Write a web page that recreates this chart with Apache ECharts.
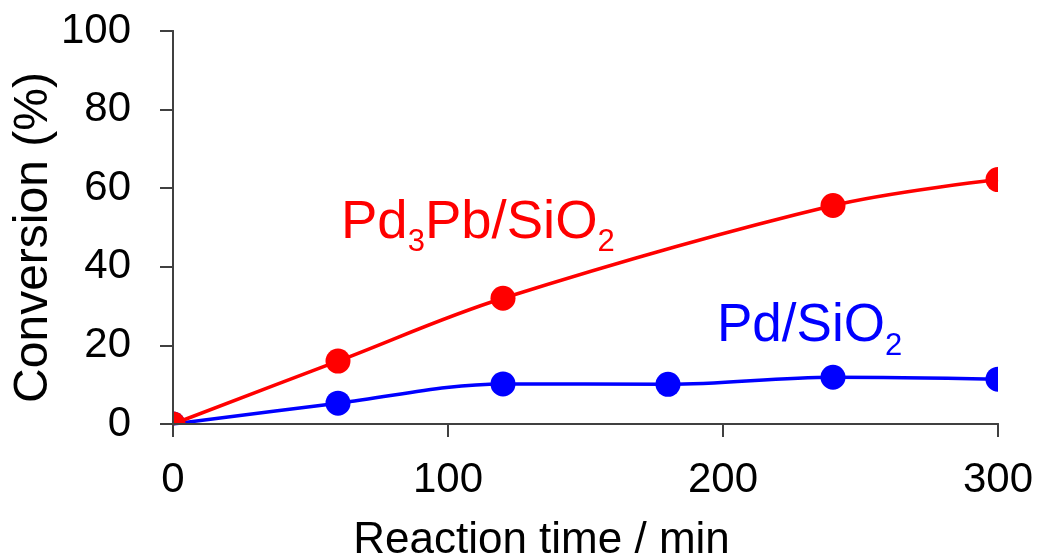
<!DOCTYPE html>
<html>
<head>
<meta charset="utf-8">
<script src="https://cdn.jsdelivr.net/npm/echarts@6/dist/echarts.min.js"></script>
<style>
  html, body { margin: 0; padding: 0; background: #fff; }
  #chart { width: 1038px; height: 560px; }
</style>
</head>
<body>
<div id="chart"></div>
<script>
// Conversion over reaction time for two catalysts
const pd3pbTimes = [0, 60, 120, 240, 300];
const pd3pbConversion = [0, 16.0, 32.0, 55.6, 62.2];
const pdTimes = [0, 60, 120, 180, 240, 300];
const pdConversion = [0, 5.3, 10.2, 10.1, 11.9, 11.4];
const xTicks = [0, 100, 200, 300];
const yTicks = [0, 20, 40, 60, 80, 100];

const FONT = "'Liberation Sans', Arial, sans-serif";
const AXIS_COLOR = '#404040';
const RED = '#ff0000';
const BLUE = '#0000ff';
const MARKER = 25;

const pairs = (xs, ys) => xs.map((x, i) => [x, ys[i]]);

const chart = echarts.init(document.getElementById('chart'), null, { renderer: 'canvas' });

const frameAxis = {
  min: 0,
  axisLine: { show: true, lineStyle: { color: AXIS_COLOR, width: 2 } },
  axisTick: { show: false },
  axisLabel: { show: false },
  splitLine: { show: false },
  z: 10
};

// Round markers, clipped to the plot frame like the curves
function markerSeries(name, data, color, z) {
  return {
    name: name,
    type: 'custom',
    data: data,
    clip: true,
    z: z,
    renderItem: (params, api) => {
      const p = api.coord([api.value(0), api.value(1)]);
      return {
        type: 'circle',
        shape: { cx: p[0], cy: p[1], r: MARKER / 2 },
        style: { fill: color }
      };
    }
  };
}

function curveSeries(name, data, color, z) {
  return {
    name: name,
    type: 'line',
    data: data,
    smooth: 0.35,
    showSymbol: false,
    symbol: 'none',
    z: z,
    lineStyle: { color: color, width: 3.5 }
  };
}

chart.setOption({
  animation: false,
  backgroundColor: '#fff',
  grid: { left: 173, right: 40, top: 31, bottom: 136, containLabel: false, outerBoundsMode: 'none' },
  xAxis: [{
    type: 'value',
    min: xTicks[0],
    max: xTicks[xTicks.length - 1],
    interval: xTicks[1] - xTicks[0],
    z: 10,
    name: 'Reaction time / min',
    nameLocation: 'middle',
    nameGap: 95,
    nameMoveOverlap: false,
    nameTextStyle: { fontFamily: FONT, fontSize: 44, color: '#000', padding: [0, 88, 0, 0] },
    axisLine: { lineStyle: { color: AXIS_COLOR, width: 2 } },
    axisTick: { show: true, inside: false, length: 13, lineStyle: { color: AXIS_COLOR, width: 2 } },
    axisLabel: { fontFamily: FONT, fontSize: 42, color: '#000', margin: 35 },
    splitLine: { show: false }
  }, Object.assign({}, frameAxis, { type: 'value', position: 'top', max: xTicks[xTicks.length - 1] })],
  yAxis: [{
    type: 'value',
    min: yTicks[0],
    max: yTicks[yTicks.length - 1],
    interval: yTicks[1] - yTicks[0],
    z: 10,
    name: 'Conversion (%)',
    nameLocation: 'middle',
    nameGap: 115,
    nameMoveOverlap: false,
    nameTextStyle: { fontFamily: FONT, fontSize: 48, color: '#000', padding: [0, 20, 0, 0] },
    axisLine: { show: true, lineStyle: { color: AXIS_COLOR, width: 2 } },
    axisTick: { show: true, inside: false, length: 13, lineStyle: { color: AXIS_COLOR, width: 2 } },
    axisLabel: { fontFamily: FONT, fontSize: 42, color: '#000', margin: 42 },
    splitLine: { show: false }
  }, Object.assign({}, frameAxis, { type: 'value', position: 'right', max: yTicks[yTicks.length - 1] })],
  series: [
    curveSeries('Pd/SiO2', pairs(pdTimes, pdConversion), BLUE, 2),
    markerSeries('Pd/SiO2 points', pairs(pdTimes, pdConversion), BLUE, 3),
    curveSeries('Pd3Pb/SiO2', pairs(pd3pbTimes, pd3pbConversion), RED, 4),
    markerSeries('Pd3Pb/SiO2 points', pairs(pd3pbTimes, pd3pbConversion), RED, 5)
  ]
});

// Chemical formula labels with subscripts, laid out piece by piece
const ctx = document.createElement('canvas').getContext('2d');
function measure(text, size) {
  ctx.font = size + 'px ' + FONT;
  return ctx.measureText(text).width;
}
function formula(pieces, left, baseline, color, size, subSize, drop) {
  const out = [];
  let x = left;
  pieces.forEach(([text, isSub]) => {
    const s = isSub ? subSize : size;
    const base = isSub ? baseline + drop : baseline;
    out.push({
      type: 'text', z: 20, silent: true,
      x: x, y: base - 0.31 * s,
      style: { text: text, fill: color, font: s + 'px ' + FONT, textAlign: 'left', textVerticalAlign: 'middle', verticalAlign: 'middle' }
    });
    x += measure(text, s);
  });
  return out;
}

const labels = []
  .concat(formula([['Pd', false], ['3', true], ['Pb/SiO', false], ['2', true]], 341, 240, RED, 54.5, 31, 12))
  .concat(formula([['Pd/SiO', false], ['2', true]], 717, 343, BLUE, 53, 31, 13));

chart.setOption({ graphic: labels });
</script>
</body>
</html>
